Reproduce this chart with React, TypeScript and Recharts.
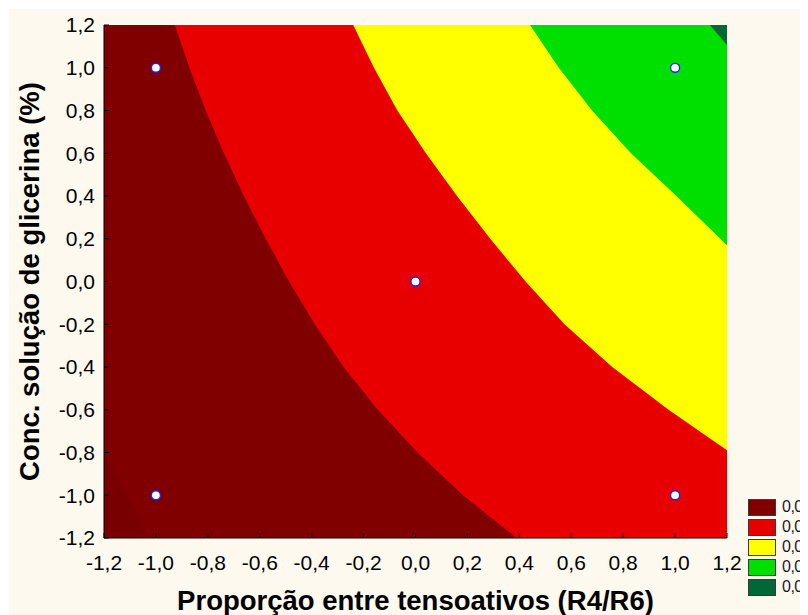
import React from "react";
import {
  ComposedChart,
  Area,
  Scatter,
  XAxis,
  YAxis,
} from "recharts";

// axis ticks
const xTicks = [-1.2, -1.0, -0.8, -0.6, -0.4, -0.2, 0, 0.2, 0.4, 0.6, 0.8, 1.0, 1.2];
const yTicks = [-1.2, -1.0, -0.8, -0.6, -0.4, -0.2, 0, 0.2, 0.4, 0.6, 0.8, 1.0, 1.2];

// contour boundaries (x, y pairs), each region filled down to -1.2
const level03X = [-1.2, 1.2];
const level03Y = [1.2, 1.2];

const level04X = [-1.2, 1.134, 1.2];
const level04Y = [1.2, 1.2, 1.106];

const level05X = [-1.2, 0.441, 0.552, 0.68, 0.83, 1.005, 1.2];
const level05Y = [1.2, 1.2, 1.0, 0.8, 0.6, 0.4, 0.17];

const level06X = [-1.2, -0.24, -0.16, -0.07, 0.04, 0.16, 0.288, 0.424, 0.574, 0.758, 0.975, 1.2];
const level06Y = [1.2, 1.2, 1.0, 0.8, 0.6, 0.4, 0.2, 0, -0.2, -0.4, -0.6, -0.79];

const level07X = [-1.2, -0.927, -0.871, -0.808, -0.738, -0.661, -0.577, -0.487, -0.388, -0.277, -0.145, 0.008, 0.183, 0.39];
const level07Y = [1.2, 1.2, 1.0, 0.8, 0.6, 0.4, 0.2, 0, -0.2, -0.4, -0.6, -0.8, -1.0, -1.2];

const level08X = [-1.2, -1.02];
const level08Y = [-0.8, -1.2];

// design points
const pointsX = [-1, 1, 0, -1, 1];
const pointsY = [1, 1, 0, -1, -1];

// legend
const legendLabels = ["0,07", "0,06", "0,05", "0,04", "0,03"];
const legendColors = ["#800000", "#E80000", "#FFFF00", "#00E000", "#006837"];

const toRows = (xs: number[], ys: number[]) => xs.map((x, i) => ({ x, y: ys[i] }));

const fmt = (v: number) => v.toFixed(1).replace(".", ",");

const layers = [
  { key: "l03", rows: toRows(level03X, level03Y), color: "#006837" },
  { key: "l04", rows: toRows(level04X, level04Y), color: "#00E000" },
  { key: "l05", rows: toRows(level05X, level05Y), color: "#FFFF00" },
  { key: "l06", rows: toRows(level06X, level06Y), color: "#E80000" },
  { key: "l07", rows: toRows(level07X, level07Y), color: "#800000" },
  { key: "l08", rows: toRows(level08X, level08Y), color: "#790000" },
];

const points = toRows(pointsX, pointsY);

const fontFamily = "'Liberation Sans', Arial, sans-serif";
const tickFont = { fontSize: 21, fill: "#000", fontFamily };
const titleFont = { fontSize: 27.5, fontWeight: 700, fill: "#000", fontFamily };

export default function App() {
  return (
    <div style={{ background: "#fff", width: 800, height: 607, paddingTop: 1, paddingLeft: 1 }}>
      <div style={{ position: "relative", background: "#FEF9EE", width: 799, height: 606, overflow: "hidden" }}>
        <ComposedChart width={799} height={606} margin={{ top: 16, right: 81, left: 0, bottom: 0 }}>
          {layers.map((l) => (
            <Area
              key={l.key}
              data={l.rows}
              xAxisId="x"
              yAxisId="y"
              dataKey="y"
              type="linear"
              baseValue="dataMin"
              stroke="none"
              fill={l.color}
              fillOpacity={1}
              dot={false}
              activeDot={false}
              isAnimationActive={false}
            />
          ))}
          <Scatter
            data={points}
            xAxisId="x"
            yAxisId="y"
            dataKey="y"
            fill="#FFFFFF"
            stroke="#1E1EFF"
            strokeWidth={1.3}
            isAnimationActive={false}
          />
          <XAxis
            xAxisId="x"
            dataKey="x"
            type="number"
            domain={[-1.2, 1.2]}
            allowDataOverflow
            ticks={xTicks}
            interval={0}
            tickFormatter={fmt}
            tickSize={-5}
            tickMargin={22}
            height={77}
            tick={tickFont}
            axisLine={{ stroke: "#000" }}
            tickLine={{ stroke: "#000" }}
            label={{
              value: "Proporção entre tensoativos (R4/R6)",
              position: "insideBottom",
              offset: 5,
              style: titleFont,
            }}
          />
          <XAxis
            xAxisId="top"
            orientation="top"
            type="number"
            domain={[-1.2, 1.2]}
            allowDataOverflow
            ticks={xTicks}
            interval={0}
            tickSize={-5}
            height={0}
            tick={false}
            axisLine={{ stroke: "#000" }}
            tickLine={{ stroke: "#000" }}
          />
          <YAxis
            yAxisId="y"
            dataKey="y"
            type="number"
            domain={[-1.2, 1.2]}
            allowDataOverflow
            ticks={yTicks}
            interval={0}
            tickFormatter={fmt}
            tickSize={-5}
            tickMargin={14}
            width={95}
            tick={tickFont}
            axisLine={{ stroke: "#000" }}
            tickLine={{ stroke: "#000" }}
            label={{
              value: "Conc. solução de glicerina (%)",
              angle: -90,
              position: "insideLeft",
              offset: 20,
              style: { ...titleFont, textAnchor: "middle" },
            }}
          />
          <YAxis
            yAxisId="right"
            orientation="right"
            type="number"
            domain={[-1.2, 1.2]}
            allowDataOverflow
            ticks={yTicks}
            interval={0}
            tickSize={-5}
            width={0}
            tick={false}
            axisLine={{ stroke: "#000" }}
            tickLine={{ stroke: "#000" }}
          />
        </ComposedChart>
        <div style={{ position: "absolute", left: 739, top: 488 }}>
          {legendLabels.map((label, i) => (
            <div key={label} style={{ display: "flex", alignItems: "center", height: 20, whiteSpace: "nowrap" }}>
              <span
                style={{
                  display: "inline-block",
                  width: 26,
                  height: 15,
                  background: legendColors[i],
                  border: "1px solid #3a3a3a",
                  marginRight: 6,
                }}
              />
              <span style={{ fontFamily, fontSize: 16, letterSpacing: -0.5, color: "#1a1a2a" }}>{label}</span>
            </div>
          ))}
        </div>
      </div>
    </div>
  );
}
